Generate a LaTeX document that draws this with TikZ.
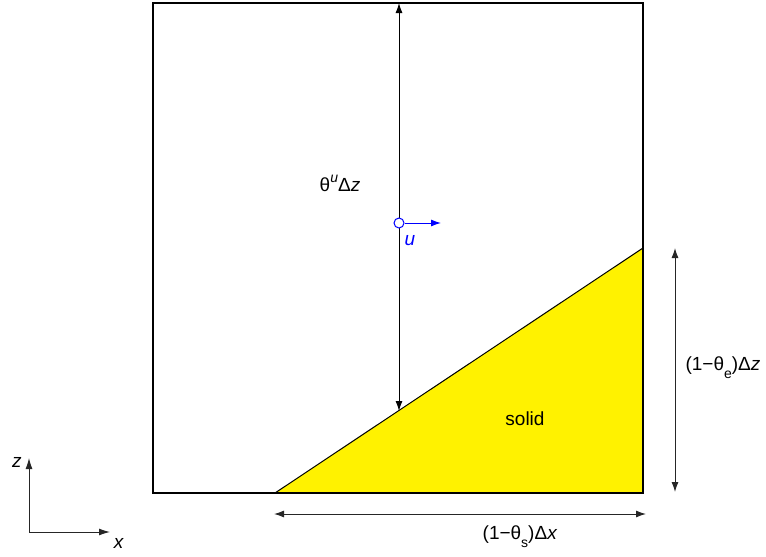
\documentclass[tikz,border=0pt]{standalone}
\usepackage{fontspec}
\setmainfont{Liberation Sans}
\usetikzlibrary{arrows.meta}
\newcommand{\mysub}[1]{\raisebox{-0.8ex}{\fontsize{14}{16}\selectfont #1}}
\newcommand{\mysup}[1]{\raisebox{0.9ex}{\fontsize{14}{16}\selectfont\itshape #1}}
\begin{document}
\begin{tikzpicture}[x=1pt,y=-1pt,
  every node/.style={font=\fontsize{19}{22}\selectfont, inner sep=0pt},
  dim/.style={draw=black!85, line width=1pt, {Latex[length=10pt,width=7pt]}-{Latex[length=10pt,width=7pt]}},
  axis/.style={draw=black!85, line width=1pt, -{Latex[length=11pt,width=7pt]}},
  wall/.style={draw=black, line width=2.5pt},
  bluearr/.style={draw=blue, line width=1pt, -{Latex[length=10pt,width=7pt]}}]
\useasboundingbox (0,0) rectangle (766,557);
% corners
\coordinate (TL) at (153,3);
\coordinate (TR) at (643,3);
\coordinate (BL) at (153,493);
\coordinate (BR) at (643,493);
\coordinate (S1) at (275,493);
\coordinate (S2) at (643,248);
% solid
\fill[yellow] (S1) -- (S2) -- (BR) -- cycle;
\draw[line width=1pt] (S1) -- (S2);
\draw[wall] (S1) -- (BL) -- (TL) -- (TR) -- (BR) -- cycle;
\node (solid) at (525,419) {solid};
% vertical dimension inside
\coordinate (vt) at (399,3);
\coordinate (vb) at (399,411);
\draw[dim, draw=black] (vt) -- (vb);
\node (thu) at (340,183) {θ\mysup{u}Δ\textit{z}};
% velocity
\node[draw=blue, circle, minimum size=10pt, line width=1pt, fill=white] (c) at (399,223) {};
\coordinate (ue) at (441,223);
\draw[bluearr] (c) -- (ue);
\node[text=blue] (u) at (410,241) {\textit{u}};
% right dimension
\coordinate (rt) at (675,248);
\coordinate (rb) at (675,492);
\draw[dim] (rt) -- (rb);
\node (lz) at (723,368) {(1−θ\mysub{e})Δ\textit{z}};
% bottom dimension
\coordinate (bl) at (274,514);
\coordinate (br) at (646,514);
\draw[dim] (bl) -- (br);
\node (lx) at (520,537) {(1−θ\mysub{s})Δ\textit{x}};
% axes
\coordinate (o) at (29,532);
\coordinate (az) at (29,458);
\coordinate (ax) at (110,532);
\draw[axis] (o) -- (az);
\draw[axis] (o) -- (ax);
\node (zl) at (17,462) {\textit{z}};
\node (xl) at (119,543) {\textit{x}};
\end{tikzpicture}
\end{document}
